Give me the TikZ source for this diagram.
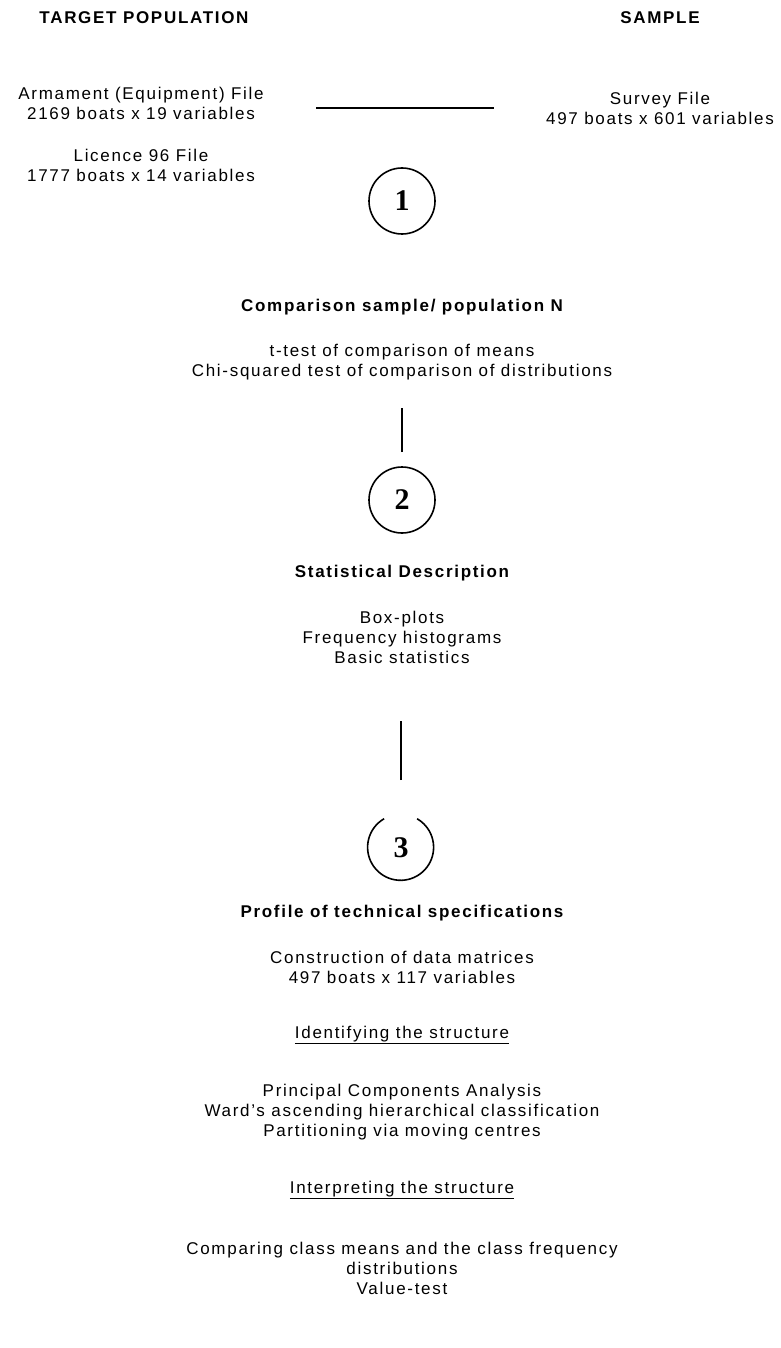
\documentclass[tikz,border=0pt]{standalone}
\usepackage{fontspec}
\setmainfont{Liberation Sans}[LetterSpace=10]
\newfontfamily\numfont{Liberation Serif}
\usetikzlibrary{positioning,calc}

\begin{document}
\begin{tikzpicture}[x=1pt,y=-1pt, every node/.style={align=center,inner sep=0pt,font=\fontsize{17}{20}\selectfont}, head/.style={font=\fontsize{17}{20}\selectfont\bfseries}, stage/.style={circle,draw,line width=1.6pt,minimum size=66pt,font=\fontsize{30}{30}\selectfont\numfont\bfseries}, link/.style={line width=1.6pt}]
  \useasboundingbox (0,0) rectangle (780,1348);
  % sources
  \node[head] (pop) at (144,18) {TARGET POPULATION};
  \node[head] (smp) at (660,18) {SAMPLE};
  \node (arm) at (141,103) {Armament (Equipment) File\\2169 boats x 19 variables};
  \node (lic) at (141,165) {Licence 96 File\\1777 boats x 14 variables};
  \node (srv) at (660,108) {Survey File\\497 boats x 601 variables};
  \coordinate (linkL) at (316,108);
  \coordinate (linkR) at (494,108);
  \draw[link] (linkL) -- (linkR);
  % step 1
  \node[stage] (c1) at (402,201) {1};
  \node[head] (cmp) at (402,307) {Comparison sample/ population N};
  \node (tests) at (402,362) {t-test of comparison of means\\Chi-squared test of comparison of distributions};
  % step 2
  \node[stage] (c2) at (402,500) {2};
  \draw[link] (c2.north) ++(0,-14) -- ++(0,-44);
  \node[head] (desc) at (402,573) {Statistical Description};
  \node (plots) at (402,637) {Box-plots\\Frequency histograms\\Basic statistics};
  % step 3
  \node[stage,draw=none] (c3) at (401,848) {3};
  \draw[link] (c3.120) arc[start angle=120,end angle=420,radius=33pt];
  \draw[link] (c3.north) ++(0,-34) -- ++(0,-59);
  \node[head] (prof) at (402,913) {Profile of technical specifications};
  \node (mat) at (402,967) {Construction of data matrices\\497 boats x 117 variables};
  \node (ident) at (402,1035) {\underline{Identifying the structure}};
  \node (meth) at (402,1112) {Principal Components Analysis\\Ward's ascending hierarchical classification\\Partitioning via moving centres};
  \node (interp) at (402,1190) {\underline{Interpreting the structure}};
  \node (comp) at (402,1268) {Comparing class means and the class frequency\\distributions\\Value-test};
\end{tikzpicture}
\end{document}
